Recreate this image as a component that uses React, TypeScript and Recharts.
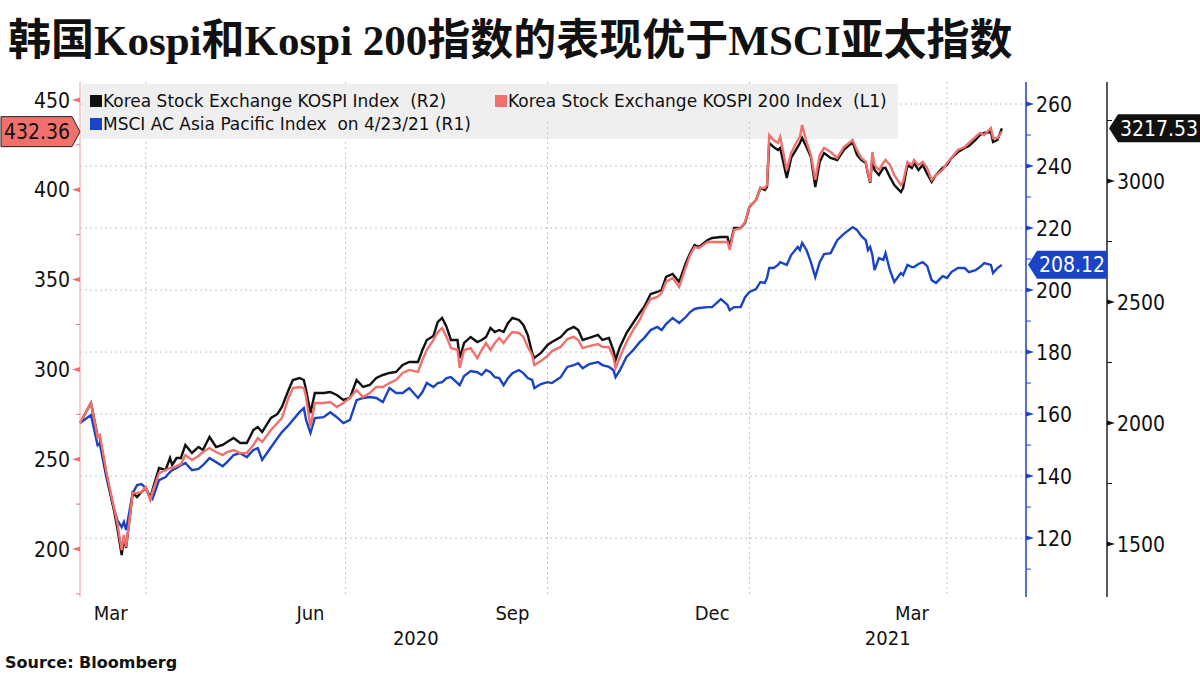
import React from 'react';
import { LineChart, Line, XAxis, YAxis, CartesianGrid } from 'recharts';

// days since 2 Mar 2020
const DAYS = [
  0, 5, 8, 9, 12, 15, 17, 19, 20, 21,
  24, 26, 28, 30, 32, 33, 36, 39, 41, 42,
  44, 46, 48, 51, 54, 56, 59, 62, 65, 67,
  70, 73, 76, 79, 81, 83, 87, 90, 92, 95,
  97, 100, 102, 103, 105, 107, 111, 114, 117, 120,
  123, 126, 129, 132, 135, 138, 141, 144, 147, 150,
  154, 156, 158, 161, 163, 165, 167, 169, 172, 173,
  175, 178, 181, 183, 185, 187, 189, 191, 193, 195,
  197, 200, 202, 204, 206, 207, 210, 213, 215, 219,
  222, 225, 227, 229, 232, 236, 238, 241, 243, 244,
  246, 249, 252, 255, 257, 260, 263, 265, 267, 270,
  273, 276, 278, 280, 282, 286, 288, 292, 295, 296,
  298, 301, 303, 305, 308, 310, 312, 313, 314, 316,
  318, 319, 322, 324, 327, 328, 329, 331, 333, 335,
  337, 339, 342, 345, 348, 352, 354, 356, 358, 359,
  360, 361, 362, 364, 366, 367, 369, 371, 374, 375,
  377, 379, 380, 382, 384, 386, 388, 390, 393, 395,
  397, 400, 403, 405, 408, 410, 412, 415, 416, 418,
  420,
];

const KOSPI = [
  2000.0, 2082.7, 1946.3, 1942.2, 1789.3, 1661.2, 1566.2, 1454.6, 1524.9, 1483.6,
  1710.8, 1694.3, 1714.9, 1731.5, 1690.2, 1723.2, 1814.1, 1805.9, 1855.4, 1826.5,
  1855.4, 1855.4, 1909.2, 1876.1, 1900.9, 1888.5, 1942.2, 1900.9, 1909.2, 1921.5,
  1938.1, 1917.4, 1917.4, 1971.1, 1983.5, 1962.9, 2020.7, 2037.2, 2066.2, 2136.4,
  2177.7, 2186.0, 2177.7, 2136.4, 2041.4, 2124.0, 2124.0, 2128.1, 2115.8, 2095.1,
  2103.4, 2177.7, 2148.8, 2157.1, 2186.0, 2198.4, 2206.7, 2210.8, 2239.7, 2252.1,
  2252.1, 2301.7, 2343.0, 2359.5, 2417.4, 2433.9, 2396.7, 2343.0, 2343.0, 2268.6,
  2330.6, 2355.4, 2334.7, 2343.0, 2355.4, 2392.6, 2376.1, 2384.3, 2376.1, 2413.3,
  2433.9, 2425.7, 2405.0, 2363.7, 2289.3, 2268.6, 2289.3, 2322.4, 2334.7, 2355.4,
  2384.3, 2396.7, 2384.3, 2343.0, 2351.3, 2363.7, 2343.0, 2351.3, 2301.7, 2260.4,
  2314.1, 2371.9, 2413.3, 2454.6, 2479.4, 2533.1, 2541.3, 2549.6, 2603.3, 2615.7,
  2582.7, 2661.2, 2702.5, 2735.6, 2727.3, 2756.2, 2764.5, 2768.6, 2768.6, 2727.3,
  2805.8, 2805.8, 2826.5, 2892.6, 2921.5, 2971.1, 2962.8, 2975.2, 3157.0, 3140.5,
  3128.1, 3136.4, 3012.4, 3095.0, 3140.5, 3157.0, 3177.7, 3140.5, 3099.2, 2975.2,
  3078.5, 3115.7, 3095.0, 3086.8, 3128.1, 3161.1, 3107.4, 3086.8, 3074.4, 3028.9,
  2991.7, 3095.0, 3045.5, 3024.8, 3053.7, 3053.7, 3016.5, 2983.5, 2954.5, 2971.1,
  3066.1, 3053.7, 3074.4, 3045.5, 3066.1, 3028.9, 2995.9, 3024.8, 3053.7, 3066.1,
  3095.0, 3119.8, 3136.4, 3144.6, 3169.4, 3190.1, 3198.3, 3202.5, 3161.1, 3169.4,
  3217.53,
];

const KOSPI_200 = [
  270.2, 281.3, 262.4, 263.5, 242.9, 225.6, 214.5, 199.4, 207.8, 201.1,
  231.2, 231.2, 231.7, 234.5, 227.3, 231.7, 242.3, 244.0, 245.1, 245.1,
  246.2, 247.3, 252.3, 249.6, 251.8, 254.0, 256.2, 254.0, 252.3, 254.0,
  255.1, 253.4, 253.4, 257.9, 261.8, 259.6, 266.3, 270.2, 272.9, 284.1,
  289.6, 290.2, 289.6, 284.6, 267.9, 281.3, 281.3, 281.8, 279.1, 281.3,
  284.1, 288.5, 284.6, 286.9, 290.2, 290.2, 292.4, 294.1, 298.0, 299.7,
  298.6, 305.2, 310.8, 316.4, 320.8, 323.1, 318.1, 311.9, 310.8, 300.8,
  310.8, 311.9, 306.3, 310.8, 314.7, 310.8, 314.7, 317.5, 314.7, 318.1,
  320.8, 320.3, 318.1, 312.5, 308.0, 302.4, 304.7, 307.5, 310.2, 312.5,
  316.9, 318.1, 316.4, 311.9, 313.0, 314.1, 312.5, 312.5, 306.9, 300.8,
  306.9, 315.3, 321.9, 327.5, 333.1, 339.2, 340.3, 342.5, 348.7, 350.9,
  345.9, 357.0, 363.7, 368.1, 367.6, 370.9, 370.9, 370.9, 370.9, 366.5,
  377.6, 378.7, 382.1, 390.4, 394.3, 401.0, 401.0, 402.7, 430.5, 427.7,
  426.1, 429.4, 411.0, 420.5, 427.7, 429.4, 436.1, 426.6, 419.4, 405.5,
  419.4, 423.3, 421.0, 417.7, 423.8, 427.7, 422.2, 417.7, 415.5, 409.4,
  404.3, 421.0, 413.8, 411.0, 414.9, 416.6, 413.8, 408.2, 402.7, 404.3,
  415.5, 413.8, 416.6, 413.8, 415.5, 412.1, 405.5, 408.2, 411.0, 414.9,
  417.7, 422.2, 423.8, 426.1, 429.4, 431.6, 430.5, 434.4, 428.8, 428.8,
  432.36,
];

const MSCI_AP = [
  157.1, 159.7, 150.0, 150.6, 139.7, 130.6, 125.8, 123.5, 125.2, 122.6,
  134.5, 137.1, 137.4, 136.1, 133.2, 132.6, 138.7, 139.7, 141.3, 141.9,
  142.6, 143.5, 144.2, 141.9, 142.3, 143.5, 145.8, 144.5, 143.2, 144.5,
  146.8, 147.4, 146.1, 148.4, 149.0, 145.2, 149.3, 152.3, 154.2, 156.4,
  158.1, 160.6, 161.9, 158.1, 153.9, 158.7, 159.0, 160.6, 159.0, 157.1,
  158.1, 164.5, 165.2, 165.5, 165.2, 163.9, 168.4, 166.8, 166.8, 168.4,
  165.2, 167.1, 170.0, 168.7, 170.0, 170.3, 171.6, 171.9, 170.0, 169.3,
  172.3, 173.9, 173.5, 172.6, 174.2, 173.5, 171.9, 171.6, 169.3, 171.6,
  173.2, 174.2, 173.2, 171.6, 171.0, 168.4, 169.7, 170.3, 170.0, 171.9,
  175.2, 175.8, 176.4, 174.8, 176.1, 176.8, 175.8, 175.2, 174.2, 171.9,
  174.2, 178.4, 180.6, 183.2, 184.5, 187.1, 188.1, 187.1, 189.0, 191.0,
  189.4, 191.3, 192.9, 193.9, 194.2, 194.5, 194.5, 197.1, 195.2, 193.5,
  194.5, 194.5, 197.7, 199.4, 200.3, 202.6, 202.3, 203.9, 207.1, 207.1,
  208.1, 209.0, 208.1, 211.3, 213.9, 212.9, 215.2, 212.9, 209.0, 204.2,
  209.0, 211.6, 211.9, 216.1, 218.1, 220.3, 219.4, 217.4, 216.1, 212.9,
  213.9, 211.3, 206.4, 210.3, 209.7, 211.9, 206.4, 202.6, 205.5, 204.8,
  208.1, 207.4, 207.4, 208.4, 209.0, 207.7, 203.2, 202.3, 204.5, 203.9,
  205.8, 207.1, 207.1, 205.8, 206.4, 207.4, 208.7, 208.1, 205.5, 207.1,
  208.12,
];

const MONTH_TICKS = [14, 105, 197, 288, 379];
const MONTH_LABELS = ['Mar', 'Jun', 'Sep', 'Dec', 'Mar'];
const YEAR_TICKS = [153, 368];
const YEAR_LABELS = ['2020', '2021'];
const MONTH_STARTS = [30, 121, 213, 305, 395];

const L1_MAJOR = [200, 250, 300, 350, 400, 450];
const L1_MINOR = [175, 225, 275, 325, 375, 425];
const R1_MAJOR = [120, 140, 160, 180, 200, 220, 240, 260];
const R1_MINOR = [110, 130, 150, 170, 190, 210, 230, 250];
const R2_MAJOR = [1500, 2000, 2500, 3000];
const R2_MINOR = [1750, 2250, 2750, 3250];

const LAST_KOSPI = KOSPI[KOSPI.length - 1];
const LAST_K200 = KOSPI_200[KOSPI_200.length - 1];
const LAST_MSCI = MSCI_AP[MSCI_AP.length - 1];

const BLACK = '#111111';
const SALMON = '#f2706c';
const BLUE = '#1a43c6';
const LEGEND_BG = '#efefef';
const AXIS_FONT = '"DejaVu Sans Condensed", "DejaVu Sans", sans-serif';

const data = DAYS.map((day, i) => ({
  day,
  kospi: KOSPI[i],
  k200: KOSPI_200[i],
  msci: MSCI_AP[i],
}));

function LeftTick(props: any) {
  const { x, y, payload } = props;
  const v = payload.value;
  const ax = x + 10;
  if (v === LAST_K200) {
    return (
      <g>
        <polygon
          points={`${ax - 79},${y - 15} ${ax - 8},${y - 15} ${ax},${y} ${ax - 8},${y + 15} ${ax - 79},${y + 15}`}
          fill={SALMON}
          stroke="#222"
          strokeWidth={1}
        />
        <text x={ax - 43} y={y} dy="0.36em" textAnchor="middle" fontSize={21} fontFamily={AXIS_FONT} fill="#111">
          {v.toFixed(2)}
        </text>
      </g>
    );
  }
  if (L1_MINOR.includes(v)) {
    return <line x1={ax - 4} x2={ax} y1={y} y2={y} stroke="#d98080" strokeWidth={1} />;
  }
  return (
    <g>
      <polygon points={`${ax - 8},${y} ${ax},${y - 2.5} ${ax},${y + 2.5}`} fill={SALMON} />
      <text x={ax - 10} y={y} dy="0.36em" textAnchor="end" fontSize={21} fontFamily={AXIS_FONT} fill="#111">
        {v}
      </text>
    </g>
  );
}

function makeRightTick(minor: number[], last: number, color: string, boxWidth: number) {
  return function RightTick(props: any) {
    const { x, y, payload } = props;
    const v = payload.value;
    const ax = x - 10;
    if (v === last) {
      return (
        <g>
          <polygon
            points={`${ax + 2},${y} ${ax + 11},${y - 14} ${ax + boxWidth},${y - 14} ${ax + boxWidth},${y + 14} ${ax + 11},${y + 14}`}
            fill={color}
          />
          <text x={ax + 13} y={y} dy="0.36em" textAnchor="start" fontSize={21} fontFamily={AXIS_FONT} fill="#fff">
            {v.toFixed(2)}
          </text>
        </g>
      );
    }
    if (minor.includes(v)) {
      return <line x1={ax} x2={ax + 5} y1={y} y2={y} stroke={color} strokeWidth={1} />;
    }
    return (
      <g>
        <polygon points={`${ax},${y - 2.5} ${ax},${y + 2.5} ${ax + 8},${y}`} fill={color} />
        <text x={ax + 10} y={y} dy="0.36em" textAnchor="start" fontSize={21} fontFamily={AXIS_FONT} fill="#111">
          {v}
        </text>
      </g>
    );
  };
}

const BlueTick = makeRightTick(R1_MINOR, LAST_MSCI, BLUE, 81);
const BlackTick = makeRightTick(R2_MINOR, LAST_KOSPI, BLACK, 93);

function DateTick(props: any) {
  const { x, y, payload } = props;
  const v = payload.value;
  const mi = MONTH_TICKS.indexOf(v);
  if (mi >= 0) {
    return (
      <text x={x} y={y + 23} textAnchor="middle" fontSize={20} fontFamily={AXIS_FONT} fill="#111">
        {MONTH_LABELS[mi]}
      </text>
    );
  }
  const yi = YEAR_TICKS.indexOf(v);
  return (
    <text x={x} y={y + 48} textAnchor="middle" fontSize={20} fontFamily={AXIS_FONT} fill="#111">
      {YEAR_LABELS[yi]}
    </text>
  );
}

const legendItems = [
  { label: 'Korea Stock Exchange KOSPI Index  (R2)', color: BLACK, left: 8, top: 8 },
  { label: 'Korea Stock Exchange KOSPI 200 Index  (L1)', color: SALMON, left: 413, top: 8 },
  { label: 'MSCI AC Asia Pacific Index  on 4/23/21 (R1)', color: BLUE, left: 8, top: 31 },
];

export default function App() {
  return (
    <div style={{ position: 'absolute', left: 0, top: 0, width: 1200, height: 675, background: '#fff', overflow: 'hidden' }}>
      <div
        style={{
          position: 'absolute',
          left: 8,
          top: 17,
          fontFamily: '"Liberation Serif", "Noto Sans CJK SC", serif',
          fontWeight: 700,
          fontSize: 43,
          lineHeight: '48px',
          color: '#111',
          whiteSpace: 'nowrap',
        }}
      >
        韩国Kospi和Kospi 200指数的表现优于MSCI亚太指数
      </div>

      {/* legend panel behind the plot, so the series run over it */}
      <div style={{ position: 'absolute', left: 82, top: 84, width: 816, height: 55, background: LEGEND_BG }} />

      <div style={{ position: 'absolute', left: 0, top: 0 }}>
        <LineChart width={1200} height={675} data={data} margin={{ top: 82, right: 0, bottom: 0, left: 0 }}>
          <CartesianGrid
            xAxisId="date"
            yAxisId="r1"
            stroke="#c4c4c4"
            strokeDasharray="2 3"
            verticalValues={MONTH_STARTS}
            horizontalValues={R1_MAJOR}
          />
          <XAxis
            xAxisId="date"
            dataKey="day"
            type="number"
            domain={[0, 431]}
            ticks={[...MONTH_TICKS, ...YEAR_TICKS].sort((a, b) => a - b)}
            interval={0}
            tick={<DateTick />}
            tickLine={false}
            axisLine={false}
            tickSize={0}
            tickMargin={0}
            height={78}
          />
          <YAxis
            yAxisId="l1"
            orientation="left"
            type="number"
            domain={[173.3, 460]}
            ticks={[...L1_MAJOR, ...L1_MINOR, LAST_K200]}
            interval={0}
            width={80}
            tick={<LeftTick />}
            tickLine={false}
            tickSize={8}
            tickMargin={2}
            axisLine={{ stroke: '#f0a0a0', strokeWidth: 1 }}
          />
          <YAxis
            yAxisId="r1"
            orientation="right"
            type="number"
            domain={[101, 267.1]}
            ticks={[...R1_MAJOR, ...R1_MINOR, LAST_MSCI]}
            interval={0}
            width={81}
            tick={<BlueTick />}
            tickLine={false}
            tickSize={8}
            tickMargin={2}
            axisLine={{ stroke: BLUE, strokeWidth: 1.5 }}
          />
          <YAxis
            yAxisId="r2"
            orientation="right"
            type="number"
            domain={[1281, 3409]}
            ticks={[...R2_MAJOR, ...R2_MINOR, LAST_KOSPI]}
            interval={0}
            width={93}
            tick={<BlackTick />}
            tickLine={false}
            tickSize={8}
            tickMargin={2}
            axisLine={{ stroke: '#222', strokeWidth: 1.5 }}
          />
          <Line
            xAxisId="date"
            yAxisId="r1"
            dataKey="msci"
            stroke={BLUE}
            strokeWidth={2.4}
            dot={false}
            activeDot={false}
            isAnimationActive={false}
          />
          <Line
            xAxisId="date"
            yAxisId="r2"
            dataKey="kospi"
            stroke={BLACK}
            strokeWidth={2.4}
            dot={false}
            activeDot={false}
            isAnimationActive={false}
          />
          <Line
            xAxisId="date"
            yAxisId="l1"
            dataKey="k200"
            stroke={SALMON}
            strokeWidth={2.4}
            dot={false}
            activeDot={false}
            isAnimationActive={false}
          />
        </LineChart>
      </div>

      {/* legend text area on top: hides grid lines behind the labels, stays clear of the series */}
      <div style={{ position: 'absolute', left: 82, top: 84, width: 816, height: 55, pointerEvents: 'none' }}>
        <div style={{ position: 'absolute', left: 0, top: 0, width: 400, height: 55, background: LEGEND_BG }} />
        <div style={{ position: 'absolute', left: 400, top: 0, width: 416, height: 36, background: LEGEND_BG }} />
        {legendItems.map((item) => (
          <div
            key={item.label}
            style={{
              position: 'absolute',
              left: item.left,
              top: item.top,
              fontFamily: '"DejaVu Sans", sans-serif',
              fontSize: 17,
              lineHeight: '18px',
              color: '#111',
              whiteSpace: 'pre',
              display: 'flex',
              alignItems: 'center',
            }}
          >
            <span
              style={{ display: 'inline-block', flexShrink: 0, width: 12, height: 12, background: item.color, marginRight: 1 }}
            />
            {item.label}
          </div>
        ))}
      </div>

      <div
        style={{
          position: 'absolute',
          left: 5,
          top: 653,
          fontFamily: '"DejaVu Sans", sans-serif',
          fontWeight: 700,
          fontSize: 16,
          color: '#111',
        }}
      >
        Source: Bloomberg
      </div>
    </div>
  );
}
